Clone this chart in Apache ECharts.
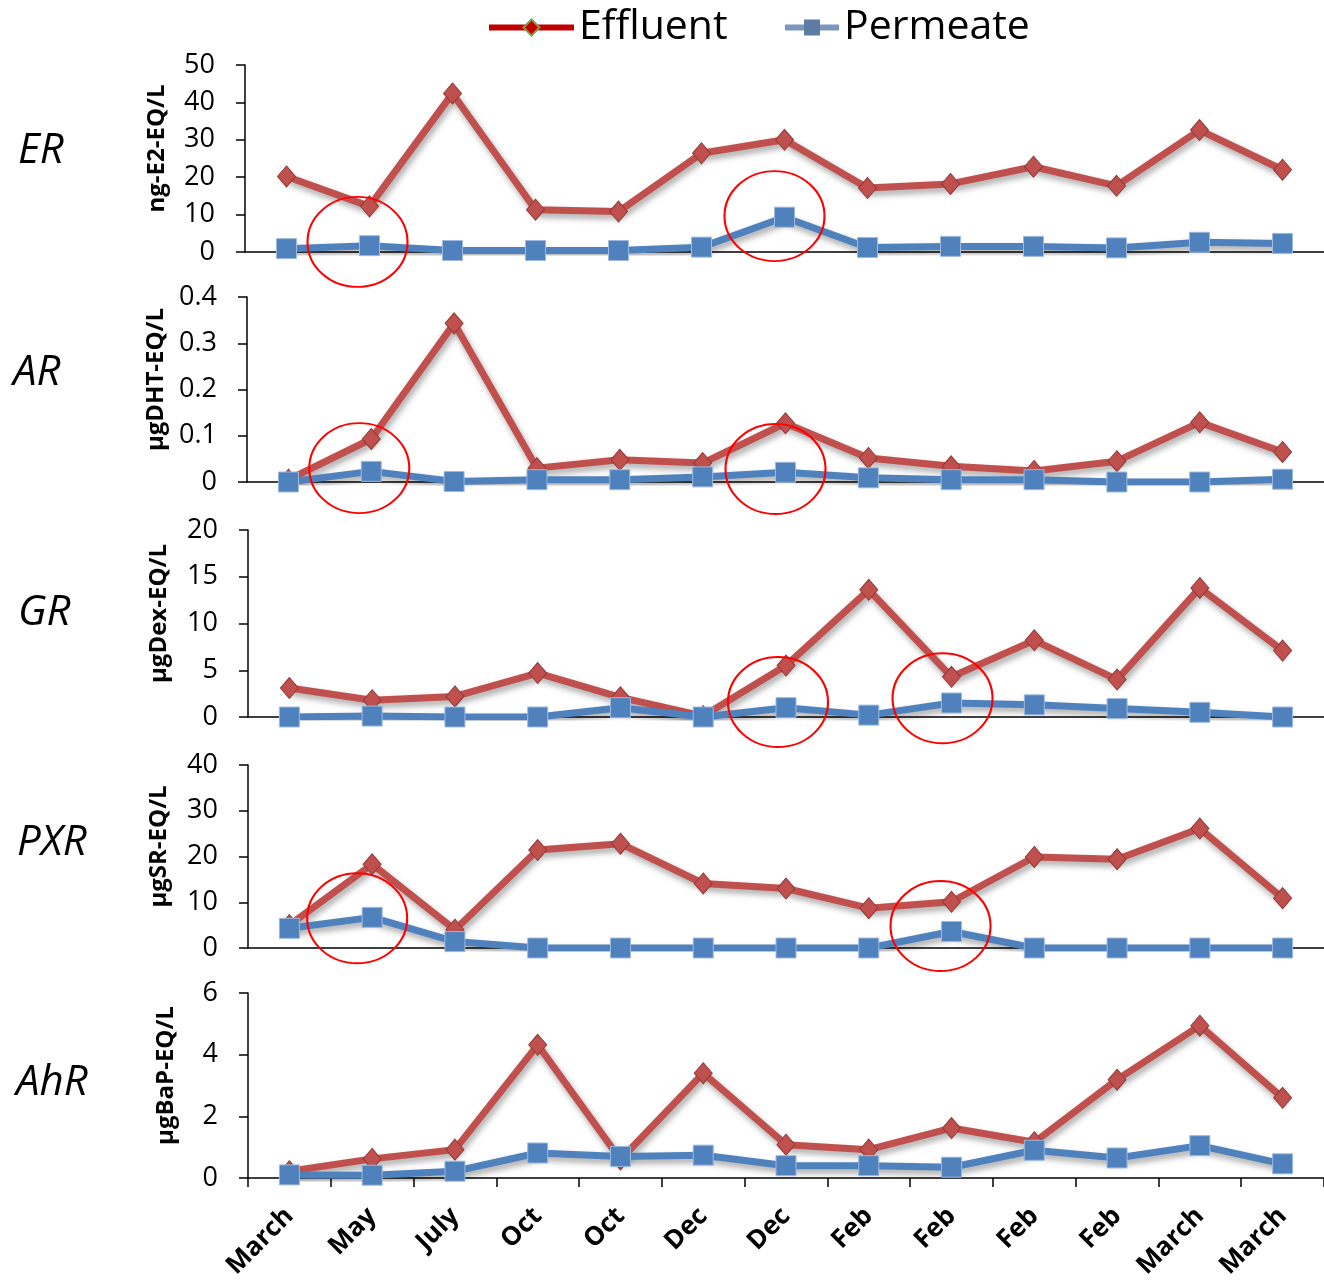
<!DOCTYPE html>
<html>
<head>
<meta charset="utf-8">
<script src="https://cdn.jsdelivr.net/npm/echarts@6/dist/echarts.min.js"></script>
<style>
  html, body { margin: 0; padding: 0; background: #fff; }
  #chart { width: 1324px; height: 1282px; }
</style>
</head>
<body>
<div id="chart"></div>
<script>
// ---- data ----
const categories = ['March', 'May', 'July', 'Oct', 'Oct', 'Dec', 'Dec', 'Feb', 'Feb', 'Feb', 'Feb', 'March', 'March'];
const seriesNames = ['Effluent', 'Permeate'];
const panelLabels = ['ER', 'AR', 'GR', 'PXR', 'AhR'];
const unitLabels = ['ng-E2-EQ/L', '\u00b5gDHT-EQ/L', '\u00b5gDex-EQ/L', '\u00b5gSR-EQ/L', '\u00b5gBaP-EQ/L'];
const yMax = [50, 0.4, 20, 40, 6];
const yStep = [10, 0.1, 5, 10, 2];

const erEffluent  = [20.2, 12.2, 42.4, 11.3, 10.8, 26.4, 30.0, 17.1, 18.2, 22.8, 17.7, 32.6, 22.0];
const erPermeate  = [0.9, 1.7, 0.4, 0.4, 0.4, 1.3, 9.3, 1.2, 1.5, 1.5, 1.1, 2.6, 2.3];
const arEffluent  = [0.005, 0.093, 0.343, 0.030, 0.048, 0.041, 0.127, 0.052, 0.034, 0.024, 0.045, 0.129, 0.065];
const arPermeate  = [0, 0.023, 0.001, 0.005, 0.005, 0.011, 0.021, 0.009, 0.005, 0.005, 0, 0, 0.006];
const grEffluent  = [3.1, 1.8, 2.2, 4.7, 2.1, 0.1, 5.5, 13.6, 4.3, 8.2, 4.0, 13.8, 7.1];
const grPermeate  = [0, 0.1, 0, 0, 1.0, 0, 1.0, 0.2, 1.5, 1.3, 0.9, 0.5, 0];
const pxrEffluent = [5.0, 18.3, 4.0, 21.4, 22.8, 14.1, 13.0, 8.7, 10.1, 19.9, 19.4, 26.1, 10.9];
const pxrPermeate = [4.3, 6.7, 1.4, 0, 0, 0, 0, 0, 3.6, 0, 0, 0, 0];
const ahrEffluent = [0.22, 0.62, 0.92, 4.32, 0.6, 3.4, 1.08, 0.92, 1.62, 1.16, 3.19, 4.94, 2.6];
const ahrPermeate = [0.1, 0.09, 0.22, 0.81, 0.70, 0.74, 0.40, 0.40, 0.35, 0.90, 0.65, 1.05, 0.46];

// highlighted points (category index, value) circled in red
const erCircles  = [[1, 2.7], [6, 9.6]];
const arCircles  = [[1, 0.030], [6, 0.028]];
const grCircles  = [[6, 1.6], [8, 2.0]];
const pxrCircles = [[1, 6.5], [8, 4.8]];
const ahrCircles = [];

const effluentData = [erEffluent, arEffluent, grEffluent, pxrEffluent, ahrEffluent];
const permeateData = [erPermeate, arPermeate, grPermeate, pxrPermeate, ahrPermeate];
const circleData   = [erCircles, arCircles, grCircles, pxrCircles, ahrCircles];

// ---- layout / style ----
const gridLayout = [
  { left: 245, top: 65,  height: 187, width: 1083 },
  { left: 247, top: 297, height: 185, width: 1077 },
  { left: 248, top: 530, height: 187, width: 1083 },
  { left: 248, top: 765, height: 183, width: 1080 },
  { left: 248, top: 993, height: 185, width: 1089 }
];
const nameGaps = [76, 79, 77, 77, 70];
const labelPos = [[18, 151], [13, 373], [18, 613], [17, 843], [16, 1083]];
const circleOffsetX = [[-12, -10], [-12, -10], [-8, -9], [-15, -11], []];
const FONT = '"Open Sans", "Noto Sans", sans-serif';
const RED = '#C0504D', BLUE = '#4F81BD';

const grid = [], xAxis = [], yAxis = [], series = [], graphic = [];
for (let i = 0; i < 5; i++) {
  const last = i === 4;
  grid.push(Object.assign({ containLabel: false }, gridLayout[i]));
  xAxis.push({
    type: 'category', gridIndex: i, data: categories, boundaryGap: true,
    axisLine: { show: true, onZero: true, lineStyle: { color: '#000', width: 1.5 } },
    axisTick: { show: last, length: 9, inside: false, lineStyle: { color: '#000', width: 1.5 } },
    axisLabel: {
      show: last, rotate: 45, interval: 0, margin: 34,
      fontFamily: FONT, fontSize: 26, fontWeight: 'bold', color: '#000'
    },
    splitLine: { show: false }
  });
  yAxis.push({
    type: 'value', gridIndex: i, min: 0, max: yMax[i], interval: yStep[i],
    name: unitLabels[i], nameLocation: 'middle', nameGap: nameGaps[i],
    nameTextStyle: { fontFamily: FONT, fontSize: 24, fontWeight: 'bold', color: '#000', padding: [0, 0, 0, 20] },
    axisLine: { show: true, lineStyle: { color: '#000', width: 1.5 } },
    axisTick: { show: true, length: 9, lineStyle: { color: '#000', width: 1.5 } },
    axisLabel: { margin: 30, fontFamily: FONT, fontSize: 27, color: '#000' },
    splitLine: { show: false }
  });
  const shadow = { shadowColor: 'rgba(0,0,0,0.35)', shadowBlur: 6, shadowOffsetX: 2, shadowOffsetY: 4 };
  series.push({
    name: seriesNames[0], type: 'line', xAxisIndex: i, yAxisIndex: i,
    data: effluentData[i], symbol: 'diamond', symbolSize: [18, 21],
    lineStyle: Object.assign({ color: RED, width: 7 }, shadow),
    itemStyle: { color: RED, borderColor: '#8E3A38', borderWidth: 1 },
    z: 2
  });
  series.push({
    name: seriesNames[1], type: 'line', xAxisIndex: i, yAxisIndex: i,
    data: permeateData[i], symbol: 'rect', symbolSize: 20,
    lineStyle: Object.assign({ color: BLUE, width: 7 }, shadow),
    itemStyle: { color: BLUE, borderColor: '#9DB9DE', borderWidth: 1 },
    z: 3,
    markPoint: {
      silent: true, animation: false,
      symbol: 'circle', symbolSize: [100, 90],
      itemStyle: { color: 'rgba(0,0,0,0)', borderColor: '#FF0000', borderWidth: 2 },
      label: { show: false },
      data: circleData[i].map((c, k) => ({ coord: c, symbolOffset: [circleOffsetX[i][k], 0] }))
    }
  });
  graphic.push({
    type: 'text', x: labelPos[i][0], y: labelPos[i][1],
    style: { text: panelLabels[i], font: 'italic 42px ' + FONT, fill: '#000', verticalAlign: 'middle' }
  });
}

const legendText = { fontFamily: FONT, fontSize: 41, color: '#000' };
const option = {
  animation: false,
  backgroundColor: '#fff',
  grid, xAxis, yAxis, series, graphic,
  legend: [
    {
      left: 481, top: 2, itemWidth: 85, itemHeight: 20, itemGap: 5, selectedMode: false,
      textStyle: legendText,
      data: [{ name: 'Effluent',
        itemStyle: { color: '#C00000', borderColor: '#77A33E', borderWidth: 2 },
        lineStyle: { color: '#C00000', width: 6, shadowBlur: 0, shadowOffsetX: 0, shadowOffsetY: 0 } }]
    },
    {
      left: 777, top: 2, itemWidth: 54, itemHeight: 20, selectedMode: false,
      textStyle: legendText,
      data: [{ name: 'Permeate',
        itemStyle: { color: '#5E7CA3', borderWidth: 0 },
        lineStyle: { color: '#7D97BC', width: 6, shadowBlur: 0, shadowOffsetX: 0, shadowOffsetY: 0 } }]
    }
  ]
};

const chart = echarts.init(document.getElementById('chart'), null, { renderer: 'canvas' });
chart.setOption(option);
</script>
</body>
</html>
